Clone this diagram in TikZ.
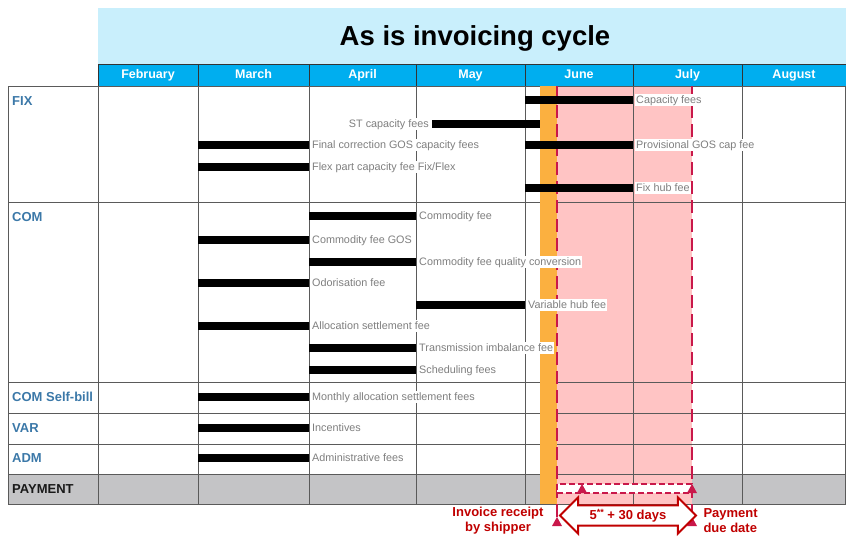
\documentclass[tikz,border=0pt]{standalone}
\usepackage{fontspec}
\setmainfont{Liberation Sans}
\usetikzlibrary{shapes.arrows}

\definecolor{titleblue}{HTML}{C9EFFC}
\definecolor{headblue}{HTML}{00AEEF}
\definecolor{rowblue}{HTML}{3B78A8}
\definecolor{feegray}{HTML}{7F7F7F}
\definecolor{gridgray}{HTML}{5A5A5A}
\definecolor{paygray}{HTML}{C4C4C6}
\definecolor{bandorange}{HTML}{FBB040}
\definecolor{bandpink}{HTML}{FFC4C4}
\definecolor{crimson}{HTML}{C9184A}
\definecolor{darkred}{HTML}{C00000}

\begin{document}
\begin{tikzpicture}[x=1pt, y=-1pt]
  \tikzstyle{month} = [text=white, text height=9pt, text depth=2.5pt, font=\fontsize{12.5}{14}\selectfont\bfseries]
  \tikzstyle{rowname} = [anchor=west, text=rowblue, font=\fontsize{13}{15}\selectfont\bfseries, inner sep=0pt]
  \tikzstyle{fee} = [fill=white, text=feegray, text height=9pt, text depth=1.5pt, font=\fontsize{10.8}{12}\selectfont, inner sep=1pt]
  \tikzstyle{bar} = [line width=7.5pt]
  \tikzstyle{grid} = [draw=gridgray, line width=0.8pt]
  \tikzstyle{deadline} = [draw=crimson, line width=1.5pt, dash pattern=on 13pt off 6pt]
  \tikzstyle{marker} = [fill=crimson]
  \tikzstyle{note} = [text=darkred, align=center, font=\fontsize{13}{15}\selectfont\bfseries]

  \useasboundingbox (0,0) rectangle (846,539);

  \fill[titleblue] (98,8) rectangle (846,64);
  \node[font=\fontsize{27.5}{30}\selectfont\bfseries] (title) at (475,38) {As is invoicing cycle};

  \foreach \i / \a / \b / \m in {1/98/198/February, 2/198/309/March, 3/309/416/April,
    4/416/525/May, 5/525/633/June, 6/633/742/July, 7/742/846/August} {%
    \filldraw[fill=headblue, draw=black!80, line width=0.8pt] (\a,64) rectangle (\b,86);
    \node[month] (m\i) at ({(\a+\b)/2},75) {\m};
  }

  \fill[paygray] (8,474) rectangle (846,504);
  \fill[bandpink] (557,86) rectangle (692,504);

  \foreach \y in {86, 202, 382, 413, 444, 474, 504}
    \draw[grid] (8,\y) -- (846,\y);
  \foreach \x in {8, 98, 198, 309, 416, 525, 633, 742, 845.5}
    \draw[grid] (\x,86) -- (\x,504);

  \fill[bandorange] (540,86) rectangle (557,504);

  \foreach \n / \y / \t in {fix/101/FIX, com/217/COM, selfbill/397/COM Self-bill,
    var/428/VAR, adm/458/ADM} {%
    \node[rowname] (\n) at (12,\y) {\t};
  }
  \node[rowname, text=black!90] (payment) at (12,489) {PAYMENT};

  \coordinate (rtop) at (557,86);
  \coordinate (rcpt) at (557,517);
  \coordinate (dtop) at (692,86);
  \coordinate (due) at (692,517);
  \draw[deadline] (rtop) -- (rcpt);
  \draw[deadline] (dtop) -- (due);

  \foreach \i / \a / \b / \y / \t in {1/525/633/100/Capacity fees,
    2/198/309/145/Final correction GOS capacity fees,
    3/525/633/145/Provisional GOS cap fee,
    4/198/309/167/{Flex part capacity fee Fix/Flex},
    5/525/633/188/Fix hub fee,
    6/309/416/216/Commodity fee,
    7/198/309/240/Commodity fee GOS,
    8/309/416/262/Commodity fee quality conversion,
    9/198/309/283/Odorisation fee,
    10/416/525/305/Variable hub fee,
    11/198/309/326/Allocation settlement fee,
    12/309/416/348/Transmission imbalance fee,
    13/309/416/370/Scheduling fees,
    14/198/309/397/Monthly allocation settlement fees,
    15/198/309/428/Incentives,
    16/198/309/458/Administrative fees} {%
    \draw[bar] (\a,\y) -- (\b,\y);
    \node[fee, anchor=west] (f\i) at (\b+2,\y) {\t};
  }
  \draw[bar] (432,124) -- (540,124);
  \node[fee, anchor=east] (st) at (430,124) {ST capacity fees};

  \draw[deadline, line width=1.3pt, dash pattern=on 6pt off 3pt, fill=white] (557,484) rectangle (692,493);

  \foreach \x / \y in {582/484, 692/484, 557/517, 692/517} {%
    \fill[marker] (\x-5,\y+9) -- (\x,\y) -- (\x+5,\y+9) -- cycle;
  }

  \node[double arrow, draw=darkred, line width=2pt, fill=white, minimum height=136pt,
    inner xsep=0pt, inner ysep=3pt, double arrow head extend=8pt, text=darkred,
    font=\fontsize{13}{15}\selectfont\bfseries] (period) at (628,515.5)
    {5\raisebox{3.5pt}{\fontsize{9}{9}\selectfont **} + 30 days};

  \node[note] (receipt) at (498,521) {Invoice receipt\\by shipper};
  \node[note, align=left, anchor=west] (duedate) at (700,521) {Payment\\due date};
\end{tikzpicture}
\end{document}
